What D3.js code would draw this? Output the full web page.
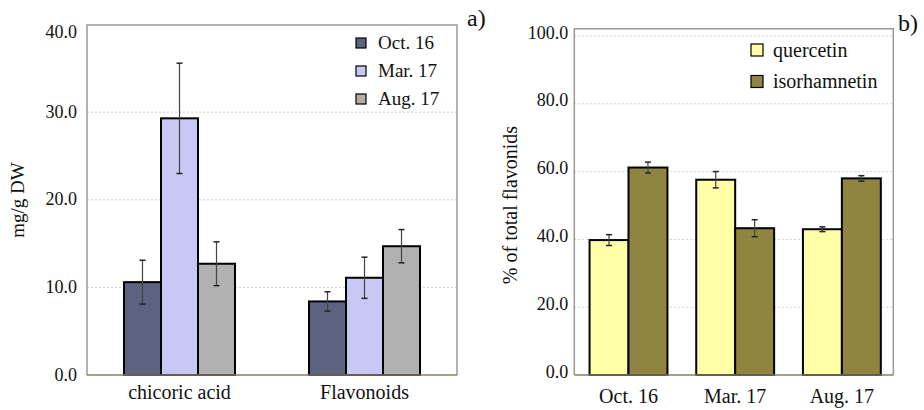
<!DOCTYPE html>
<html>
<head>
<meta charset="utf-8">
<script src="https://cdn.jsdelivr.net/npm/d3@7"></script>
<style>
  body { margin: 0; background: #fff; }
  text { font-family: "Liberation Serif", "Tinos", "Times New Roman", "DejaVu Serif", serif; fill: #111; }
</style>
</head>
<body>
<script>
// panel a) - content per month
const groupsA = ["chicoric acid", "Flavonoids"];
const seriesA = ["Oct. 16", "Mar. 17", "Aug. 17"];
const valuesA = [
    [10.6, 29.3, 12.7],
    [8.4, 11.1, 14.7],
];
const errorsA = [
    [2.5, 6.3, 2.5],
    [1.1, 2.35, 1.9],
];
const yTicksA = [0, 10, 20, 30, 40];

// panel b) - share of total flavonoids
const groupsB = ["Oct. 16", "Mar. 17", "Aug. 17"];
const seriesB = ["quercetin", "isorhamnetin"];
const valuesB = [
    [39.8, 61.2],
    [57.6, 43.3],
    [43.0, 58.0],
];
const errorsB = [
    [1.6, 1.6],
    [2.4, 2.5],
    [0.7, 0.8],
];
const yTicksB = [0, 20, 40, 60, 80, 100];

const width = 924;
const height = 410;
const serif = '"Liberation Serif", "Tinos", "Times New Roman", "DejaVu Serif", serif';

const svg = d3
    .select("body")
    .append("svg")
    .attr("width", width)
    .attr("height", height)
    .style("font-family", serif);

function drawPanel(p) {
    const g = svg.append("g");

    const y = d3.scaleLinear().domain(p.yDomain).range([p.bottom, p.yTop]);

    const x0 = d3
        .scaleBand()
        .domain(p.groups)
        .range([p.left, p.right])
        .paddingInner(p.padInner)
        .paddingOuter(p.padOuter)
        .align(p.align);

    const x1 = d3
        .scaleBand()
        .domain(p.series)
        .range([0, x0.bandwidth()]);

    const color = d3.scaleOrdinal().domain(p.series).range(p.colors);

    // dashed gridlines
    g.selectAll(".grid")
        .data(p.yTicks.filter(t => t > p.yDomain[0] && t < p.yDomain[1] || (t == p.yDomain[1] && p.yTop > p.frameTop)))
        .enter()
        .append("line")
        .attr("x1", p.left)
        .attr("x2", p.right)
        .attr("y1", d => y(d))
        .attr("y2", d => y(d))
        .style("stroke", "#cfcfcf")
        .style("stroke-dasharray", "2,2");

    // frame
    g.append("path")
        .attr("d", `M${p.left},${p.bottom}V${p.frameTop}H${p.right}V${p.bottom}`)
        .style("fill", "none")
        .style("stroke", "#9a9a9a")
        .style("stroke-width", 1.5);

    // bars
    const groupSel = g
        .selectAll(".group")
        .data(p.values)
        .enter()
        .append("g")
        .attr("transform", (d, i) => "translate(" + x0(p.groups[i]) + ",0)");

    groupSel
        .selectAll("rect")
        .data(d => d.map((v, j) => ({ key: p.series[j], value: v })))
        .enter()
        .append("rect")
        .attr("x", d => x1(d.key))
        .attr("y", d => y(d.value))
        .attr("width", x1.bandwidth())
        .attr("height", d => p.bottom - y(d.value))
        .style("fill", d => color(d.key))
        .style("stroke", "#000")
        .style("stroke-width", 2);

    // error bars
    const errSel = groupSel
        .selectAll(".err")
        .data((d, i) => d.map((v, j) => ({ key: p.series[j], value: v, err: p.errors[i][j] })))
        .enter()
        .append("g")
        .attr("transform", d => "translate(" + (x1(d.key) + x1.bandwidth() / 2) + ",0)");

    errSel.append("line")
        .attr("y1", d => y(d.value + d.err))
        .attr("y2", d => y(d.value - d.err))
        .style("stroke", "#444")
        .style("stroke-width", 1.2);

    errSel.selectAll(".cap")
        .data(d => [d.value + d.err, d.value - d.err])
        .enter()
        .append("line")
        .attr("x1", -3)
        .attr("x2", 3)
        .attr("y1", d => y(d))
        .attr("y2", d => y(d))
        .style("stroke", "#222")
        .style("stroke-width", 1.5);

    // bottom axis line
    g.append("line")
        .attr("x1", p.left)
        .attr("x2", p.right)
        .attr("y1", p.bottom)
        .attr("y2", p.bottom)
        .style("stroke", "#8a7e6e")
        .style("stroke-width", 1.5);

    // y axis labels
    const yAxis = g
        .append("g")
        .attr("transform", "translate(" + p.left + ",0)")
        .call(d3.axisLeft(y).tickValues(p.yTicks).tickSize(0).tickPadding(p.tickPad).tickFormat(d3.format(".1f")))
        .attr("font-family", null);
    yAxis.select(".domain").remove();
    yAxis.selectAll("text")
        .style("font-family", serif)
        .style("font-size", "18px")
        .attr("dy", d => (d == p.yDomain[1] && p.yTop <= p.frameTop) ? "0.7em" : p.tickDy);

    // x axis labels
    const xAxis = g
        .append("g")
        .attr("transform", "translate(0," + p.bottom + ")")
        .call(d3.axisBottom(x0).tickSize(0))
        .attr("font-family", null);
    xAxis.select(".domain").remove();
    xAxis.selectAll("text")
        .style("font-family", serif)
        .style("font-size", "20px")
        .attr("y", p.catY)
        .attr("dy", 0);

    // y title
    g.append("text")
        .attr("transform", "translate(" + p.titleX + "," + p.titleY + ") rotate(-90)")
        .attr("text-anchor", "middle")
        .style("font-size", p.titleSize)
        .text(p.title);

    // legend
    const legend = g
        .selectAll(".legend")
        .data(p.series)
        .enter()
        .append("g")
        .attr("transform", (d, i) => "translate(" + p.legX + "," + (p.legY + i * p.legStep) + ")");

    legend.append("rect")
        .attr("x", 0)
        .attr("y", -p.legBox / 2)
        .attr("width", p.legBox)
        .attr("height", p.legBox)
        .style("fill", (d, i) => p.legColors[i])
        .style("stroke", "#000")
        .style("stroke-width", 1.2);

    legend.append("text")
        .attr("x", p.legTextX)
        .attr("dy", "0.33em")
        .style("font-size", p.legSize)
        .text(d => d);

    // panel letter
    g.append("text")
        .attr("x", p.letterX)
        .attr("y", p.letterY)
        .style("font-size", "24px")
        .text(p.letter);
}

drawPanel({
    groups: groupsA, series: seriesA, values: valuesA, errors: errorsA, yTicks: yTicksA,
    yDomain: [0, 40], yTop: 24.6, frameTop: 25, bottom: 375, left: 87, right: 457,
    padInner: 0.4, padOuter: 0.2, align: 0.5,
    colors: ["#5c627f", "#c7c8f3", "#b1b1b1"],
    legColors: ["#5c627f", "#c7c8f3", "#b5aea4"],
    tickPad: 10, tickDy: "0.28em", catY: 24,
    title: "mg/g DW", titleX: 24, titleY: 200, titleSize: "19px",
    legX: 356, legY: 43, legStep: 28, legBox: 10, legTextX: 22, legSize: "19px",
    letter: "a)", letterX: 467, letterY: 26,
});

drawPanel({
    groups: groupsB, series: seriesB, values: valuesB, errors: errorsB, yTicks: yTicksB,
    yDomain: [0, 100], yTop: 36, frameTop: 28.7, bottom: 375, left: 574.3, right: 893.3,
    padInner: 0.27, padOuter: 0.13, align: 0.55,
    colors: ["#ffffa8", "#8f8541"],
    legColors: ["#ffffa8", "#8f8541"],
    tickPad: 6, tickDy: "0.12em", catY: 28,
    title: "% of total flavonids", titleX: 516.5, titleY: 205, titleSize: "20px",
    legX: 751, legY: 50, legStep: 31.5, legBox: 12, legTextX: 22, legSize: "20px",
    letter: "b)", letterX: 898, letterY: 31,
});
</script>
</body>
</html>
